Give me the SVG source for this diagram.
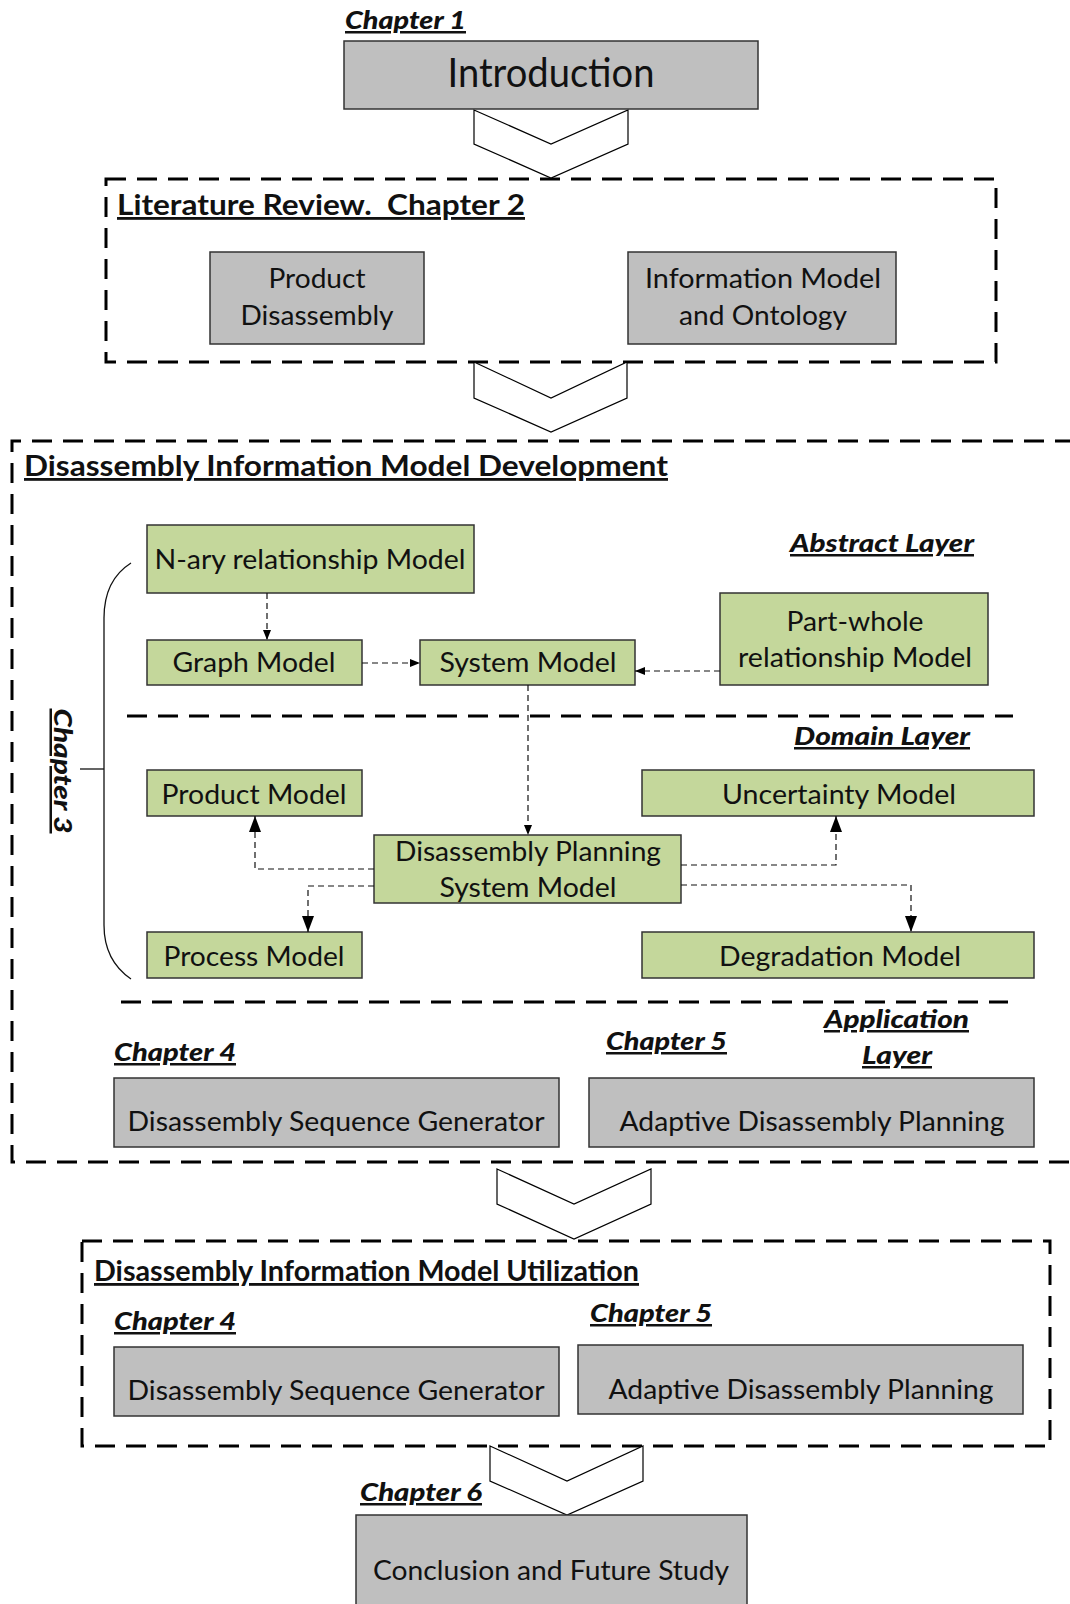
<svg xmlns="http://www.w3.org/2000/svg" width="1070" height="1604" viewBox="0 0 1070 1604">
<style>
  text { font-family: Lato, "Liberation Sans", sans-serif; fill: #111; }
  .gray { fill: #bfbfbf; stroke: #333; stroke-width: 1.5; }
  .green { fill: #c4d79b; stroke: #333; stroke-width: 1.5; }
  .frame { fill: none; stroke: #000; stroke-width: 3; stroke-dasharray: 20 11; }
  .chev { fill: #fff; stroke: #000; stroke-width: 1.2; }
  .lbl { font-size: 27px; text-anchor: middle; }
  .title { font-size: 28px; font-weight: bold; text-decoration: underline; }
  .chap { font-size: 25px; font-weight: 900; font-style: italic; text-decoration: underline; }
  .conn { fill: none; stroke: #111; stroke-width: 1.2; stroke-dasharray: 6 4; }
</style>
<defs>
  <marker id="sm" viewBox="0 0 10 8" refX="10" refY="4" markerWidth="10" markerHeight="8" orient="auto" markerUnits="userSpaceOnUse"><path d="M0,0 L10,4 L0,8 z" fill="#000"/></marker>
  <marker id="lg" viewBox="0 0 16 12" refX="16" refY="6" markerWidth="16" markerHeight="12" orient="auto" markerUnits="userSpaceOnUse"><path d="M0,0 L16,6 L0,12 z" fill="#000"/></marker>
</defs>

<!-- Frames -->
<g id="frames">
  <rect class="frame" x="106" y="179" width="890" height="183"/>
  <path class="frame" d="M1075,441 H12 V1162 H1075"/>
  <rect class="frame" x="82" y="1241" width="968" height="205"/>
  <line class="frame" x1="127" y1="716" x2="1013" y2="716"/>
  <line class="frame" x1="121" y1="1002" x2="1008" y2="1002"/>
</g>

<!-- Chevrons -->
<g id="chevrons">
  <polygon class="chev" points="474,110 551,144 628,110 628,144 551,178 474,144"/>
  <polygon class="chev" points="474,362 551,398 627,362 627,398 551,432 474,398"/>
  <polygon class="chev" points="497,1169 574,1204 651,1169 651,1204 574,1239 497,1204"/>
  <polygon class="chev" points="490,1446 567,1481 643,1446 643,1481 567,1515 490,1481"/>
</g>

<!-- Headings -->
<g id="headings">
  <text class="chap" x="345" y="29" textLength="121" lengthAdjust="spacingAndGlyphs">Chapter 1</text>
  <text class="title" x="117" y="215" textLength="408" lengthAdjust="spacingAndGlyphs">Literature Review.&#160; Chapter 2</text>
  <text class="title" x="24" y="476" textLength="644" lengthAdjust="spacingAndGlyphs">Disassembly Information Model Development</text>
  <text class="chap" x="790" y="552" textLength="184" lengthAdjust="spacingAndGlyphs">Abstract Layer</text>
  <text class="chap" x="794" y="745" textLength="176" lengthAdjust="spacingAndGlyphs">Domain Layer</text>
  <text class="chap" x="824" y="1028" textLength="145" lengthAdjust="spacingAndGlyphs">Application</text>
  <text class="chap" x="862" y="1064" textLength="70" lengthAdjust="spacingAndGlyphs">Layer</text>
  <text class="chap" x="114" y="1061" textLength="122" lengthAdjust="spacingAndGlyphs">Chapter 4</text>
  <text class="chap" x="606" y="1050" textLength="121" lengthAdjust="spacingAndGlyphs">Chapter 5</text>
  <text class="title" x="94" y="1281" textLength="545" lengthAdjust="spacingAndGlyphs">Disassembly Information Model Utilization</text>
  <text class="chap" x="114" y="1330" textLength="122" lengthAdjust="spacingAndGlyphs">Chapter 4</text>
  <text class="chap" x="590" y="1322" textLength="122" lengthAdjust="spacingAndGlyphs">Chapter 5</text>
  <text class="chap" x="360" y="1501" textLength="122" lengthAdjust="spacingAndGlyphs">Chapter 6</text>
  <text class="chap" text-anchor="middle" transform="translate(54,771) rotate(90)" textLength="125" lengthAdjust="spacingAndGlyphs">Chapter 3</text>
</g>

<!-- Brace -->
<g id="brace">
  <path d="M131,563 C112,575 104,595 104,618 L104,925 C104,948 112,966 131,979" fill="none" stroke="#111" stroke-width="1.3"/>
  <line x1="80" y1="769" x2="104" y2="769" stroke="#111" stroke-width="1.3"/>
</g>

<!-- Nodes -->
<g id="introduction">
  <rect class="gray" x="344" y="41" width="414" height="68"/>
  <text x="551" y="87" font-size="40" text-anchor="middle" textLength="207" lengthAdjust="spacingAndGlyphs">Introduction</text>
</g>
<g id="product-disassembly">
  <rect class="gray" x="210" y="252" width="214" height="92"/>
  <text class="lbl" x="317" y="288" textLength="97" lengthAdjust="spacingAndGlyphs">Product</text>
  <text class="lbl" x="317" y="325" textLength="153" lengthAdjust="spacingAndGlyphs">Disassembly</text>
</g>
<g id="information-model">
  <rect class="gray" x="628" y="252" width="268" height="92"/>
  <text class="lbl" x="763" y="288" textLength="236" lengthAdjust="spacingAndGlyphs">Information Model</text>
  <text class="lbl" x="763" y="325" textLength="168" lengthAdjust="spacingAndGlyphs">and Ontology</text>
</g>
<g id="nary">
  <rect class="green" x="147" y="525" width="327" height="68"/>
  <text class="lbl" x="310" y="569" textLength="311" lengthAdjust="spacingAndGlyphs">N-ary relationship Model</text>
</g>
<g id="graph-model">
  <rect class="green" x="147" y="640" width="215" height="45"/>
  <text class="lbl" x="254" y="672" textLength="163" lengthAdjust="spacingAndGlyphs">Graph Model</text>
</g>
<g id="system-model">
  <rect class="green" x="420" y="640" width="215" height="45"/>
  <text class="lbl" x="528" y="672" textLength="177" lengthAdjust="spacingAndGlyphs">System Model</text>
</g>
<g id="part-whole">
  <rect class="green" x="720" y="593" width="268" height="92"/>
  <text class="lbl" x="855" y="631" textLength="137" lengthAdjust="spacingAndGlyphs">Part-whole</text>
  <text class="lbl" x="855" y="667" textLength="234" lengthAdjust="spacingAndGlyphs">relationship Model</text>
</g>
<g id="product-model">
  <rect class="green" x="147" y="770" width="215" height="46"/>
  <text class="lbl" x="254" y="804" textLength="185" lengthAdjust="spacingAndGlyphs">Product Model</text>
</g>
<g id="uncertainty-model">
  <rect class="green" x="642" y="770" width="392" height="46"/>
  <text class="lbl" x="839" y="804" textLength="234" lengthAdjust="spacingAndGlyphs">Uncertainty Model</text>
</g>
<g id="dpsm">
  <rect class="green" x="374" y="835" width="307" height="68"/>
  <text class="lbl" x="528" y="861" textLength="266" lengthAdjust="spacingAndGlyphs">Disassembly Planning</text>
  <text class="lbl" x="528" y="897" textLength="177" lengthAdjust="spacingAndGlyphs">System Model</text>
</g>
<g id="process-model">
  <rect class="green" x="147" y="932" width="215" height="46"/>
  <text class="lbl" x="254" y="966" textLength="181" lengthAdjust="spacingAndGlyphs">Process Model</text>
</g>
<g id="degradation-model">
  <rect class="green" x="642" y="932" width="392" height="46"/>
  <text class="lbl" x="840" y="966" textLength="242" lengthAdjust="spacingAndGlyphs">Degradation Model</text>
</g>
<g id="dsg-1">
  <rect class="gray" x="114" y="1078" width="445" height="69"/>
  <text class="lbl" x="336" y="1131" textLength="417" lengthAdjust="spacingAndGlyphs">Disassembly Sequence Generator</text>
</g>
<g id="adp-1">
  <rect class="gray" x="589" y="1078" width="445" height="69"/>
  <text class="lbl" x="812" y="1131" textLength="385" lengthAdjust="spacingAndGlyphs">Adaptive Disassembly Planning</text>
</g>
<g id="dsg-2">
  <rect class="gray" x="114" y="1347" width="445" height="69"/>
  <text class="lbl" x="336" y="1400" textLength="417" lengthAdjust="spacingAndGlyphs">Disassembly Sequence Generator</text>
</g>
<g id="adp-2">
  <rect class="gray" x="578" y="1345" width="445" height="69"/>
  <text class="lbl" x="801" y="1399" textLength="385" lengthAdjust="spacingAndGlyphs">Adaptive Disassembly Planning</text>
</g>
<g id="conclusion">
  <rect class="gray" x="356" y="1515" width="391" height="95"/>
  <text class="lbl" x="551" y="1580" textLength="356" lengthAdjust="spacingAndGlyphs">Conclusion and Future Study</text>
</g>

<!-- Connectors -->
<g id="connectors">
  <path class="conn" d="M267,593 V640" marker-end="url(#sm)"/>
  <path class="conn" d="M362,663 H420" marker-end="url(#sm)"/>
  <path class="conn" d="M720,671 H635" marker-end="url(#sm)"/>
  <path class="conn" d="M528,685 V835" marker-end="url(#sm)"/>
  <path class="conn" d="M374,869 H255 V816" marker-end="url(#lg)"/>
  <path class="conn" d="M374,886 H308 V932" marker-end="url(#lg)"/>
  <path class="conn" d="M681,865 H836 V816" marker-end="url(#lg)"/>
  <path class="conn" d="M681,885 H911 V932" marker-end="url(#lg)"/>
</g>
</svg>
